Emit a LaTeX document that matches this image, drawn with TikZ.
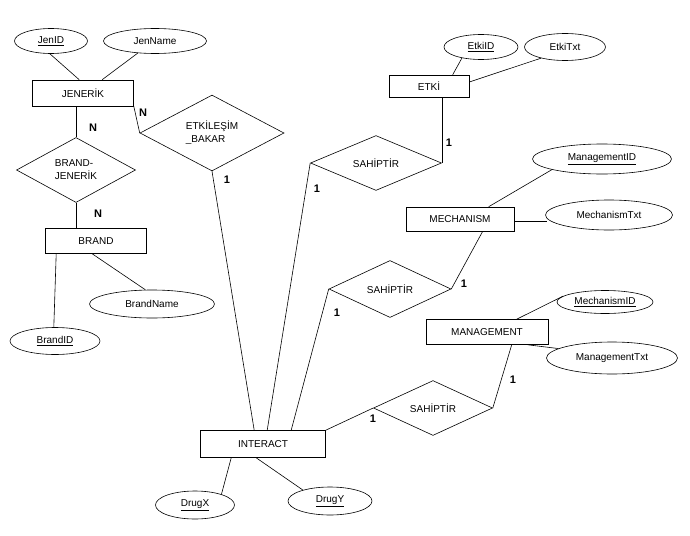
\documentclass[tikz,border=0pt]{standalone}
\usepackage{fontspec}
\setmainfont{Liberation Sans}
\usetikzlibrary{shapes.geometric}
\begin{document}
\begin{tikzpicture}[x=1pt,y=-1pt,
  entity/.style={draw,rectangle,inner sep=0pt,font=\fontsize{10}{11}\selectfont},
  attr/.style={draw,ellipse,inner sep=0pt,font=\fontsize{10}{11}\selectfont},
  rel/.style={draw,diamond,inner sep=0pt,font=\fontsize{10}{13}\selectfont,align=left},
  card/.style={font=\fontsize{11}{12}\selectfont\bfseries,inner sep=0pt},
  every path/.style={line width=0.6pt}]
\useasboundingbox (0,0) rectangle (690,535);
\fill[white] (0,0) rectangle (690,535);
% entities
\node[entity,minimum width=101,minimum height=26] (jen) at (83,93) {JENERİK};
\node[entity,minimum width=101,minimum height=25] (brand) at (96,241) {BRAND};
\node[entity,minimum width=80,minimum height=22] (etki) at (429,86) {ETKİ};
\node[entity,minimum width=108,minimum height=24] (mech) at (460,219) {MECHANISM};
\node[entity,minimum width=122,minimum height=25] (mgmt) at (487,332) {MANAGEMENT};
\node[entity,minimum width=125,minimum height=27] (inter) at (263,444) {INTERACT};
% attributes
\node[attr,minimum width=73,minimum height=25] (jenid) at (51,41) {\underline{JenID}};
\node[attr,minimum width=103,minimum height=25] (jenname) at (155,41) {JenName};
\node[attr,minimum width=125,minimum height=28] (brandname) at (152,304) {BrandName};
\node[attr,minimum width=90,minimum height=27] (brandid) at (55,341) {\underline{BrandID}};
\node[attr,minimum width=74,minimum height=25] (etkiid) at (481,47) {\underline{EtkiID}};
\node[attr,minimum width=81,minimum height=27] (etkitxt) at (565,47) {EtkiTxt};
\node[attr,minimum width=139,minimum height=30] (mgmtid) at (602,159) {\underline{ManagementID}};
\node[attr,minimum width=127,minimum height=30] (mechtxt) at (609,215) {MechanismTxt};
\node[attr,minimum width=96,minimum height=23] (mechid) at (605,302) {\underline{MechanismID}};
\node[attr,minimum width=131,minimum height=32] (mgmttxt) at (612,358) {ManagementTxt};
\node[attr,minimum width=79,minimum height=28] (drugx) at (195,505) {\underline{DrugX}};
\node[attr,minimum width=84,minimum height=28] (drugy) at (330,501) {\underline{DrugY}};
% relationships
\node[rel,minimum width=119,minimum height=65] (bj) at (76,170) {BRAND-\\JENERİK};
\node[rel,minimum width=144,minimum height=67] (eb) at (212,133) {ETKİLEŞİM\\\_BAKAR};
\node[rel,minimum width=131,minimum height=52] (s1) at (376,163) {SAHİPTİR};
\node[rel,minimum width=122,minimum height=57] (s2) at (390,289) {SAHİPTİR};
\node[rel,minimum width=119,minimum height=45] (s3) at (433,408) {SAHİPTİR};
% attribute links
\draw (jenid.265) -- ([xshift=47pt]jen.north west);
\draw (jenname.215) -- ([xshift=70pt]jen.north west);
\draw ([xshift=11pt]brand.south west) -- (brandid.95);
\draw ([xshift=47pt]brand.south west) -- (brandname.115);
\draw ([xshift=64pt]etki.north west) -- (etkiid.210);
\draw ([yshift=4pt]etki.east) -- (etkitxt.205);
\draw ([xshift=83pt]mech.north west) -- (mgmtid.192);
\coordinate (mt) at ([yshift=-2pt]mech.east);
\draw (mt) -- ([xshift=2pt]mt -| mechtxt.west);
\draw ([xshift=91pt]mgmt.north west) -- (mechid.172);
\draw ([xshift=102pt]mgmt.south west) -- (mgmttxt.170);
\draw ([xshift=31pt]inter.south west) -- (drugx.22);
\draw ([xshift=56pt]inter.south west) -- (drugy.158);
% relationship links
\draw (bj.north) -- (bj.north |- jen.south);
\draw (bj.south) -- (bj.south |- brand.north);
\draw (jen.south east) -- (eb.west);
\draw (eb.south) -- ([xshift=54pt]inter.north west);
\draw (s1.west) -- ([xshift=67pt]inter.north west);
\draw (s1.east) -- (s1.east |- etki.south);
\draw (s2.west) -- ([xshift=91pt]inter.north west);
\draw ([xshift=77pt]mech.south west) -- (s2.east);
\draw (inter.north east) -- (s3.west);
\draw (s3.east) -- ([xshift=86pt]mgmt.south west);
% cardinalities
\node[card] (n1) at (93,128) {N};
\node[card] (n2) at (98,214) {N};
\node[card] (n3) at (143,113) {N};
\node[card] (c1) at (227,180) {1};
\node[card] (c2) at (449,143) {1};
\node[card] (c3) at (317,189) {1};
\node[card] (c4) at (464,284) {1};
\node[card] (c5) at (337,313) {1};
\node[card] (c6) at (373,419) {1};
\node[card] (c7) at (513,380) {1};
\end{tikzpicture}
\end{document}
